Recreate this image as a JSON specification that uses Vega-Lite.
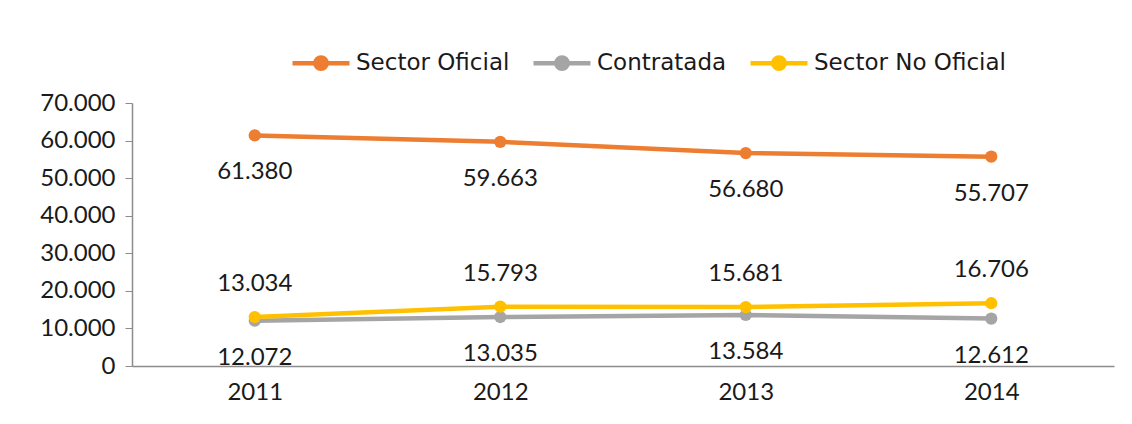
{
  "$schema": "https://vega.github.io/schema/vega-lite/v6.json",
  "width": 982,
  "height": 263,
  "autosize": {"type": "none"},
  "padding": {"left": 132, "top": 103, "right": 18, "bottom": 58},
  "background": "white",
  "config": {
    "locale": {"number": {"decimal": ",", "thousands": ".", "grouping": [3], "currency": ["", ""]}},
    "view": {"stroke": null},
    "font": "Lato",
    "axis": {"labelFont": "Lato", "labelFontSize": 24, "labelColor": "#1a1a1a", "domainColor": "#8c8c8c", "tickColor": "#8c8c8c", "grid": false},
    "legend": {"labelFont": "DejaVu Sans", "labelFontSize": 23, "labelColor": "#1a1a1a", "labelLimit": 400}
  },
  "data": {
    "values": [
      {"year": "2011", "series": "Sector Oficial", "value": 61380},
      {"year": "2012", "series": "Sector Oficial", "value": 59663},
      {"year": "2013", "series": "Sector Oficial", "value": 56680},
      {"year": "2014", "series": "Sector Oficial", "value": 55707},
      {"year": "2011", "series": "Contratada", "value": 12072},
      {"year": "2012", "series": "Contratada", "value": 13035},
      {"year": "2013", "series": "Contratada", "value": 13584},
      {"year": "2014", "series": "Contratada", "value": 12612},
      {"year": "2011", "series": "Sector No Oficial", "value": 13034},
      {"year": "2012", "series": "Sector No Oficial", "value": 15793},
      {"year": "2013", "series": "Sector No Oficial", "value": 15681},
      {"year": "2014", "series": "Sector No Oficial", "value": 16706}
    ]
  },
  "encoding": {
    "x": {
      "field": "year", "type": "ordinal",
      "scale": {"type": "point", "padding": 0.5},
      "axis": {"title": null, "labelAngle": 0, "ticks": false, "labelPadding": 14, "domainWidth": 1.5}
    },
    "y": {
      "field": "value", "type": "quantitative",
      "scale": {"domain": [0, 70000], "nice": false},
      "axis": {"title": null, "values": [0, 10000, 20000, 30000, 40000, 50000, 60000, 70000], "tickSize": 7, "labelPadding": 10, "domainWidth": 1.5, "format": ",.0f"}
    }
  },
  "layer": [
    {
      "mark": {"type": "line", "strokeWidth": 4.5, "point": {"filled": true, "size": 150}},
      "encoding": {
        "color": {
          "field": "series", "type": "nominal",
          "scale": {"domain": ["Sector Oficial", "Contratada", "Sector No Oficial"], "range": ["#ED7D31", "#A5A5A5", "#FFC000"]},
          "legend": {
            "title": null, "orient": "none", "direction": "horizontal",
            "legendX": 158, "legendY": -71,
            "symbolType": "M-1,0H1M-0.2,0A0.2,0.2 0 1,1 0.2,0A0.2,0.2 0 1,1 -0.2,0Z",
            "symbolSize": 3249, "symbolStrokeWidth": 4.5,
            "labelOffset": 4, "columnPadding": 14,
            "encode": {"symbols": {"update": {"fill": {"scale": "color", "field": "value"}, "stroke": {"scale": "color", "field": "value"}, "opacity": {"value": 1}}}}
          }
        }
      }
    },
    {
      "transform": [{"filter": "datum.series !== 'Sector No Oficial'"}],
      "mark": {"type": "text", "dy": 37, "fontSize": 24, "font": "Lato", "color": "#1a1a1a"},
      "encoding": {"text": {"field": "value", "type": "quantitative", "format": ",.0f"}}
    },
    {
      "transform": [{"filter": "datum.series === 'Sector No Oficial'"}],
      "mark": {"type": "text", "dy": -33, "fontSize": 24, "font": "Lato", "color": "#1a1a1a"},
      "encoding": {"text": {"field": "value", "type": "quantitative", "format": ",.0f"}}
    }
  ]
}
